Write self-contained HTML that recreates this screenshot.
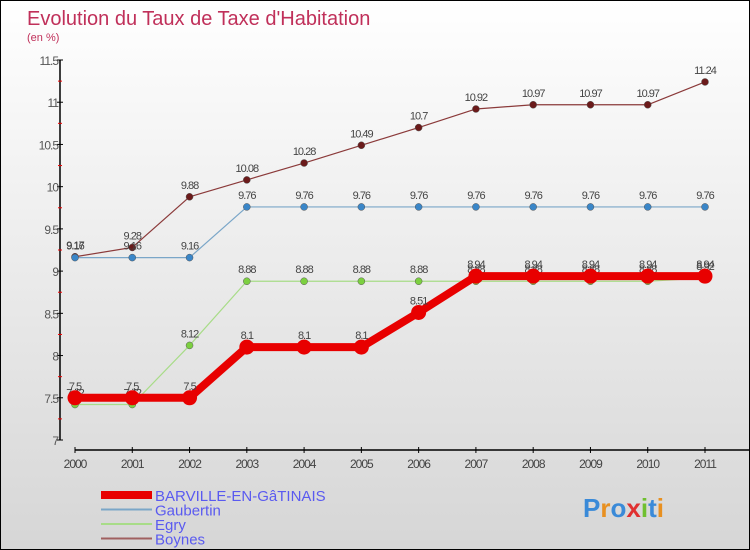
<!DOCTYPE html>
<html><head><meta charset="utf-8"><style>
body{margin:0}
#c{width:748px;height:548px;border:1px solid #000;background:linear-gradient(#fff,#d6d6d6);position:relative;font-family:"Liberation Sans",sans-serif;overflow:hidden}
</style></head><body>
<div id="c">
<svg id="s" width="748" height="548">
<text x="26" y="24" font-size="20" fill="#c0305a">Evolution du Taux de Taxe d'Habitation</text>
<text x="26" y="40" font-size="11" fill="#c0305a">(en %)</text>
</svg>
</div>
<script>
const years=[2000,2001,2002,2003,2004,2005,2006,2007,2008,2009,2010,2011];
const barville=[7.5,7.5,7.5,8.1,8.1,8.1,8.51,8.94,8.94,8.94,8.94,8.94];
const gaubertin=[9.16,9.16,9.16,9.76,9.76,9.76,9.76,9.76,9.76,9.76,9.76,9.76];
const egry=[7.42,7.42,8.12,8.88,8.88,8.88,8.88,8.88,8.88,8.88,8.88,8.92];
const boynes=[9.17,9.28,9.88,10.08,10.28,10.49,10.7,10.92,10.97,10.97,10.97,11.24];
const yTicks=[7,7.5,8,8.5,9,9.5,10,10.5,11,11.5];
const NS='http://www.w3.org/2000/svg';
const s=document.getElementById('s');
const X=i=>74+i*(630/11);
const Y=v=>439-(v-7)*(380/4.5);
function el(t,a,p){const e=document.createElementNS(NS,t);for(const k in a)e.setAttribute(k,a[k]);(p||s).appendChild(e);return e;}
let ax=el('line',{x1:59,y1:59,x2:59,y2:439,stroke:'#000','stroke-width':1.5});

yTicks.forEach(v=>{el('line',{x1:56,x2:62,y1:Y(v),y2:Y(v),stroke:'#000'});
 el('line',{x1:57,x2:61,y1:Y(v+0.25),y2:Y(v+0.25),stroke:v<11.5?'#e00':'none'});
 const t=el('text',{x:57,y:Y(v)+5,'text-anchor':'end','font-size':12,fill:'#555','letter-spacing':'-1'});t.textContent=v;
 });
let xa=el('line',{x1:74,y1:449,x2:748,y2:449,stroke:'#000','stroke-width':1.5});

years.forEach((y,i)=>{el('line',{x1:X(i),x2:X(i),y1:446,y2:452,stroke:'#000'});
 const t=el('text',{x:X(i),y:467,'text-anchor':'middle','font-size':12,fill:'#444','letter-spacing':'-1'});t.textContent=y;
 });
function series(data,color,w,r,dot,name){
 const g=el('g',{});
 el('polyline',{points:data.map((v,i)=>X(i)+','+Y(v)).join(' '),fill:'none',stroke:color,'stroke-width':w,'stroke-linejoin':'round'},g);
 data.forEach((v,i)=>{const c=el('circle',{cx:X(i),cy:Y(v),r:r,fill:dot,stroke:'#555','stroke-width':r>5?0:0.5},g);
  
  const t=el('text',{x:X(i),y:Y(v)-8,'text-anchor':'middle','font-size':11,fill:'#444','letter-spacing':'-1'},g);t.textContent=v;});
}
series(boynes,'#8b3a3a',1.2,3.5,'#6b1a1a','boynes');
series(gaubertin,'#7aa6c8',1.2,3.5,'#3a86c8','gaubertin');
series(egry,'#a8dc88',1.2,3.5,'#7cd040','egry');
series(barville,'#e80000',8,7.5,'#e80000','barville');
const leg=[['BARVILLE-EN-GâTINAIS','#e80000',8],['Gaubertin','#7aa6c8',2],['Egry','#a8dc88',2],['Boynes','#a06060',2]];
leg.forEach((l,i)=>{const y=494+i*14.5;const g=el('g',{});
 el('line',{x1:100,x2:151,y1:y,y2:y,stroke:l[1],'stroke-width':l[2]},g);
 const t=el('text',{x:154,y:y+6,'font-size':15,fill:'#5a5af0'},g);t.textContent=l[0];});
const lg=el('text',{x:582,y:516,'font-size':26,'font-weight':'bold',fill:'#3a8ad8'});

[['P','#3a8ad8'],['r','#e89020'],['o','#3a8ad8'],['x','#e03030'],['i','#70c030'],['t','#3a8ad8'],['i','#e89020']].forEach(p=>{const ts=el('tspan',{fill:p[1]},lg);ts.textContent=p[0];});
</script>
</body></html>
